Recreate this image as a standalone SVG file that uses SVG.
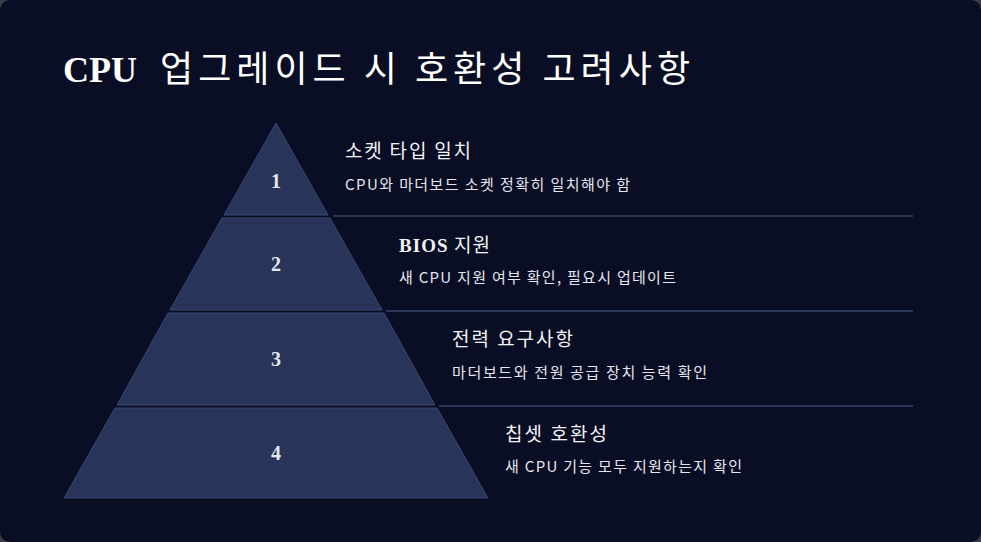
<svg xmlns="http://www.w3.org/2000/svg" width="981" height="542" viewBox="0 0 981 542">
<style>
.seg{fill:#28345a;stroke:#3b4772;stroke-width:1}
.num{font-family:"Liberation Serif","DejaVu Serif",serif;font-weight:bold;font-size:20px;fill:#e6e8f0;text-anchor:middle}
.t{font-family:"Noto Sans CJK KR",sans-serif;font-size:19px;fill:#f2f3f7}
.tb{font-family:"Liberation Serif",serif;font-weight:bold}
.d{font-family:"Noto Sans CJK KR",sans-serif;font-size:15px;fill:#e4e6ee}
.ln{stroke:#2b3557;stroke-width:2}
</style>
<rect width="981" height="542" fill="#3a3d48"/>
<rect x="0" y="0" width="981" height="542" rx="10" fill="#0a0e24"/>
<g id="title">
<text x="63" y="82" font-size="36" fill="#ffffff" font-family="Liberation Serif,serif" font-weight="bold">CPU</text>
<text x="160" y="82" font-size="36" fill="#ffffff" font-family="Noto Sans CJK KR,sans-serif" textLength="530" lengthAdjust="spacing">업그레이드 시 호환성 고려사항</text>
</g>
<g id="connectors">
<line class="ln" x1="333" y1="216" x2="913" y2="216"/>
<line class="ln" x1="386" y1="311" x2="913" y2="311"/>
<line class="ln" x1="439" y1="406" x2="913" y2="406"/>
</g>
<g id="level1"><polygon class="seg" points="276,123 328,215 224,215"/><text class="num" x="276" y="188">1</text>
<text class="t" x="345" y="158" textLength="126">소켓 타입 일치</text><text class="d" x="345" y="190" textLength="285">CPU와 마더보드 소켓 정확히 일치해야 함</text></g>
<g id="level2"><polygon class="seg" points="222,218 330,218 382,310 170,310"/><text class="num" x="276" y="271">2</text>
<text class="t" x="399" y="252" textLength="91"><tspan class="tb">BIOS</tspan> 지원</text><text class="d" x="399" y="283" textLength="277">새 CPU 지원 여부 확인, 필요시 업데이트</text></g>
<g id="level3"><polygon class="seg" points="168,313 384,313 435,405 117,405"/><text class="num" x="276" y="366">3</text>
<text class="t" x="452" y="346" textLength="121">전력 요구사항</text><text class="d" x="452" y="378" textLength="255">마더보드와 전원 공급 장치 능력 확인</text></g>
<g id="level4"><polygon class="seg" points="115,408 437,408 488,498 64,498"/><text class="num" x="276" y="460">4</text>
<text class="t" x="505" y="441" textLength="102">칩셋 호환성</text><text class="d" x="505" y="472" textLength="237">새 CPU 기능 모두 지원하는지 확인</text></g>
</svg>
